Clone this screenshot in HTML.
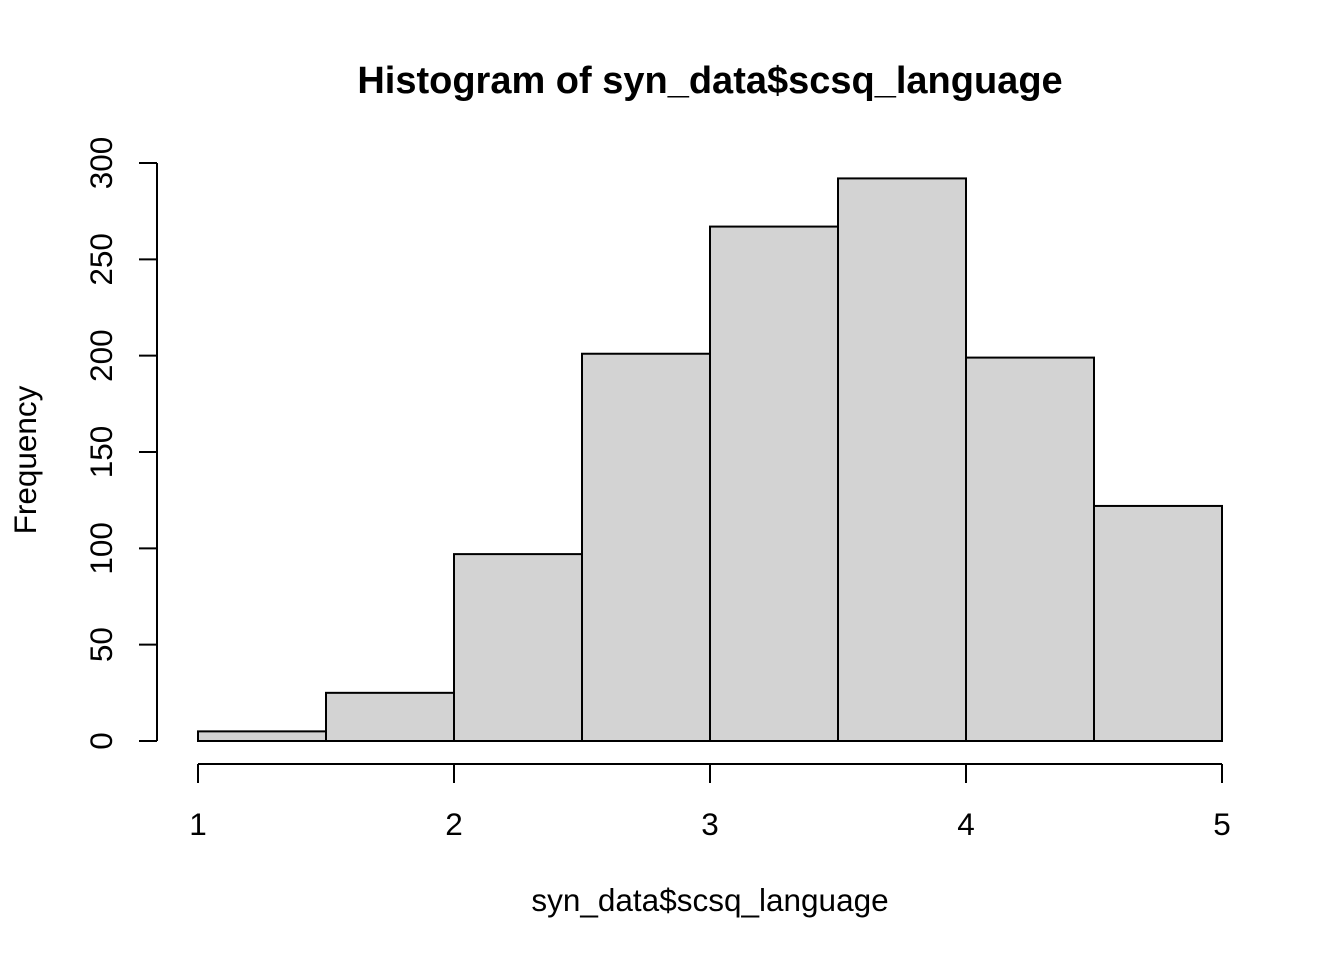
<!DOCTYPE html>
<html><head><meta charset="utf-8"><style>
body{margin:0;background:#fff;}
svg{display:block;font-family:"Liberation Sans",Arial,sans-serif;}
</style></head><body>
<svg id="c" width="1344" height="960">
<text x="710" y="93" text-anchor="middle" font-size="38" font-weight="bold">Histogram of syn_data$scsq_language</text>
<text x="710" y="911" text-anchor="middle" font-size="31.5">syn_data$scsq_language</text>
<text transform="translate(36,460) rotate(-90)" text-anchor="middle" font-size="31.5">Frequency</text>
<g id="bars"></g><g id="xa"></g><g id="ya"></g>
</svg>
<script>
const binStarts=[1,1.5,2,2.5,3,3.5,4,4.5];
const binWidth=0.5;
const counts=[5,25,97,201,267,292,199,122];
const xTicks=[1,2,3,4,5];
const yTicks=[0,50,100,150,200,250,300];
const X=v=>198+(v-1)*256;
const Y=v=>741-v*(578/300);
const NS="http://www.w3.org/2000/svg";
function mk(t,a,p){const e=document.createElementNS(NS,t);for(const k in a)e.setAttribute(k,a[k]);p.appendChild(e);return e;}
const bars=document.getElementById('bars');
binStarts.forEach((b,i)=>{
 const r=mk('rect',{x:X(b),y:Y(counts[i]),width:X(b+binWidth)-X(b),height:Y(0)-Y(counts[i]),fill:'#d3d3d3',stroke:'#000','stroke-width':2},bars);
 
 
});
const xa=document.getElementById('xa');


mk('line',{x1:X(xTicks[0]),x2:X(xTicks[xTicks.length-1]),y1:764,y2:764,stroke:'#000','stroke-width':2},xa);
xTicks.forEach(t=>{
 mk('line',{x1:X(t),x2:X(t),y1:764,y2:783,stroke:'#000','stroke-width':2},xa);
 const tx=mk('text',{x:X(t),y:835,'text-anchor':'middle','font-size':31.5},xa);tx.textContent=t;
 
 
});
const ya=document.getElementById('ya');


mk('line',{x1:157,x2:157,y1:Y(yTicks[0]),y2:Y(yTicks[yTicks.length-1]),stroke:'#000','stroke-width':2},ya);
yTicks.forEach(t=>{
 mk('line',{x1:139,x2:157,y1:Y(t),y2:Y(t),stroke:'#000','stroke-width':2},ya);
 const tx=mk('text',{transform:`translate(112,${Y(t)}) rotate(-90)`,'text-anchor':'middle','font-size':31.5},ya);tx.textContent=t;
 
 
});
</script>
</body></html>
